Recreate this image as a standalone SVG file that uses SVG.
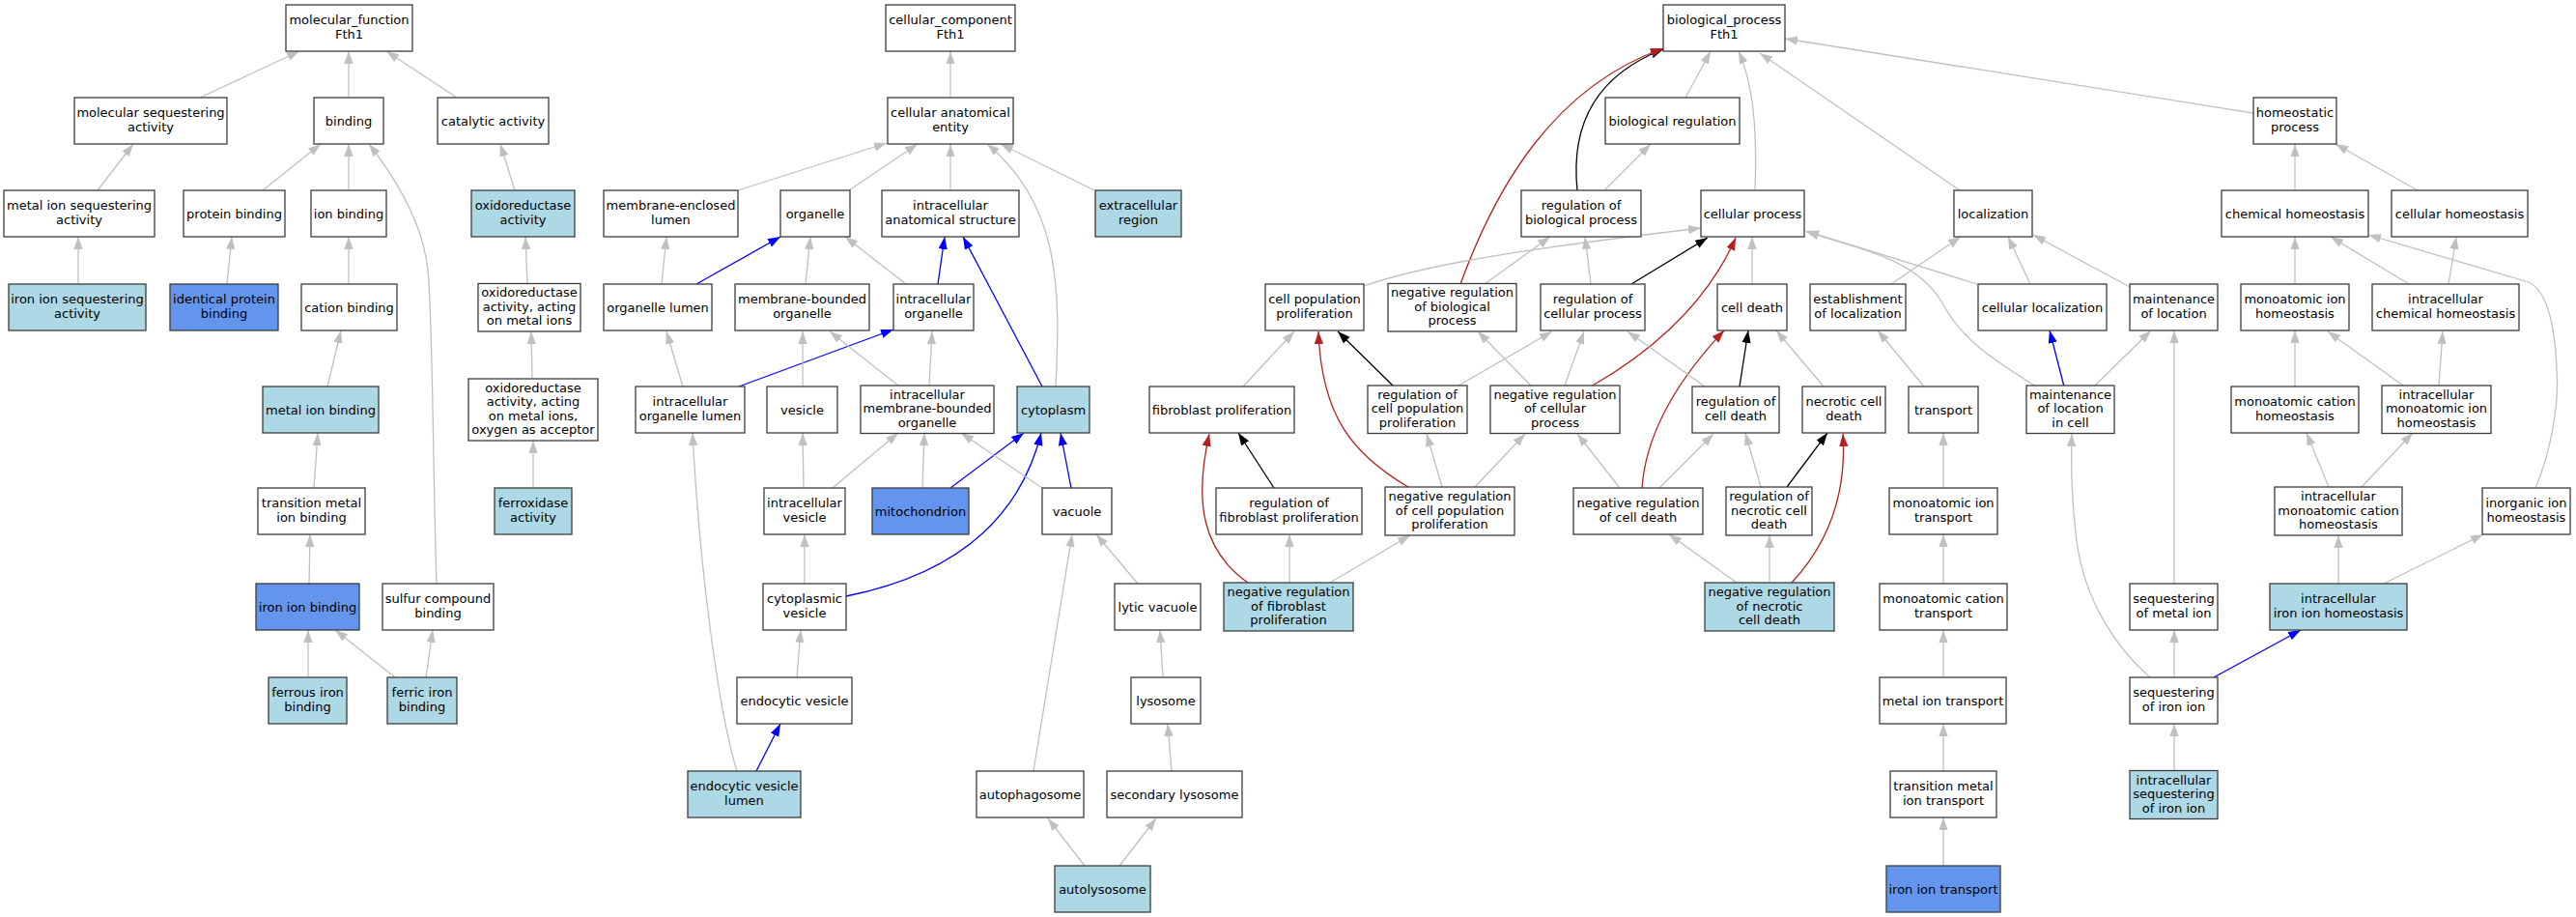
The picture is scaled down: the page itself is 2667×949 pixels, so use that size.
<svg xmlns="http://www.w3.org/2000/svg" width="2667" height="949" viewBox="0 0 2667 949">
<style>
.n rect{fill:#fff;stroke:#3c3c3c;stroke-width:1.3}
.n.lb rect{fill:#add8e6}
.n.cb rect{fill:#6495ed}
text{font-family:"DejaVu Sans",sans-serif;font-size:13px;text-anchor:middle;fill:#000}
#edges path{fill:none;stroke-width:1.3}
#edges .g{stroke:#c0c0c0;marker-end:url(#ag)}
#edges .b{stroke:#0000ff;marker-end:url(#ab)}
#edges .k{stroke:#000;marker-end:url(#ak)}
#edges .r{stroke:#b22222;marker-end:url(#ar)}
</style>
<defs>
<marker id="ag" markerUnits="userSpaceOnUse" markerWidth="14" markerHeight="10" refX="13" refY="4.67" orient="auto"><path d="M0,0 L13,4.67 L0,9.33 z" fill="#c0c0c0"/></marker>
<marker id="ab" markerUnits="userSpaceOnUse" markerWidth="14" markerHeight="10" refX="13" refY="4.67" orient="auto"><path d="M0,0 L13,4.67 L0,9.33 z" fill="#0000ff"/></marker>
<marker id="ak" markerUnits="userSpaceOnUse" markerWidth="14" markerHeight="10" refX="13" refY="4.67" orient="auto"><path d="M0,0 L13,4.67 L0,9.33 z" fill="#000"/></marker>
<marker id="ar" markerUnits="userSpaceOnUse" markerWidth="14" markerHeight="10" refX="13" refY="4.67" orient="auto"><path d="M0,0 L13,4.67 L0,9.33 z" fill="#b22222"/></marker>
</defs>
<rect width="2667" height="949" fill="#fff"/>
<g id="edges">
<path class="g" d="M207,101 L310,53"/>
<path class="g" d="M361,101 L361,53"/>
<path class="g" d="M473,101 L400,53"/>
<path class="g" d="M101,197 L138,149"/>
<path class="g" d="M272,197 L332,149"/>
<path class="g" d="M361,197 L361,149"/>
<path class="g" d="M452,604 C448,480 448,330 443,280 C438,230 410,185 382,149"/>
<path class="g" d="M81,294 L81,245"/>
<path class="g" d="M235,294 L240,245"/>
<path class="g" d="M361,294 L361,245"/>
<path class="g" d="M339,400 L353,342"/>
<path class="g" d="M325,505 L329,448"/>
<path class="g" d="M320,604 L321,553"/>
<path class="g" d="M319,701 L319,652"/>
<path class="g" d="M409,701 L347,652"/>
<path class="g" d="M441,701 L448,652"/>
<path class="g" d="M533,197 L518,149"/>
<path class="g" d="M546,294 L544,245"/>
<path class="g" d="M551,392 L550,343"/>
<path class="g" d="M552,505 L552,456"/>
<path class="g" d="M984,101 L984,53"/>
<path class="g" d="M764,197 L918,148"/>
<path class="g" d="M879,197 L950,149"/>
<path class="g" d="M984,197 L984,149"/>
<path class="g" d="M1093,400 C1098,300 1098,212 1022,149"/>
<path class="g" d="M1133,197 L1036,149"/>
<path class="g" d="M685,294 L690,245"/>
<path class="b" d="M721,294 L808,245"/>
<path class="g" d="M834,294 L839,245"/>
<path class="g" d="M938,294 L875,245"/>
<path class="b" d="M971,294 L978,245"/>
<path class="b" d="M1079,400 L997,245"/>
<path class="g" d="M707,400 L690,343"/>
<path class="b" d="M765,400 L925,341"/>
<path class="g" d="M831,400 L831,343"/>
<path class="g" d="M930,399 L859,343"/>
<path class="g" d="M962,399 L965,343"/>
<path class="g" d="M763,798 C745,740 725,600 717,448"/>
<path class="b" d="M783,798 L808,749"/>
<path class="g" d="M825,701 L829,652"/>
<path class="g" d="M832,505 L831,448"/>
<path class="g" d="M862,505 L930,448"/>
<path class="g" d="M833,604 L833,553"/>
<path class="b" d="M876,617 C985,595 1055,540 1078,448"/>
<path class="g" d="M955,505 L957,448"/>
<path class="b" d="M984,505 L1060,448"/>
<path class="g" d="M1079,505 L995,448"/>
<path class="b" d="M1109,505 L1098,448"/>
<path class="g" d="M1178,604 L1135,553"/>
<path class="g" d="M1070,798 L1110,553"/>
<path class="g" d="M1204,701 L1201,652"/>
<path class="g" d="M1213,798 L1209,749"/>
<path class="g" d="M1123,896 L1085,847"/>
<path class="g" d="M1159,896 L1197,847"/>
<path class="g" d="M1745,101 L1771,53"/>
<path class="k" d="M1633,197 C1625,120 1660,75 1722,51"/>
<path class="r" d="M1512,294 C1550,190 1610,90 1722,50"/>
<path class="g" d="M1817,197 C1820,120 1812,80 1800,53"/>
<path class="g" d="M2029,197 L1822,55"/>
<path class="g" d="M2333,117 L1848,40"/>
<path class="g" d="M1661,197 L1709,149"/>
<path class="g" d="M1537,294 L1605,245"/>
<path class="g" d="M1647,294 L1641,245"/>
<path class="k" d="M1689,294 L1768,246"/>
<path class="g" d="M1412,296 C1480,272 1600,255 1761,236"/>
<path class="g" d="M1814,294 L1814,245"/>
<path class="r" d="M1647,400 C1700,370 1765,320 1797,246"/>
<path class="g" d="M2108,400 C2060,370 2030,350 2010,312 C1985,270 1930,258 1870,240"/>
<path class="g" d="M2047,294 L1870,239"/>
<path class="g" d="M2102,294 L2079,245"/>
<path class="g" d="M1958,294 L2030,245"/>
<path class="g" d="M2205,297 L2105,243"/>
<path class="k" d="M1801,400 L1810,342"/>
<path class="r" d="M1700,505 C1704,450 1735,395 1785,342"/>
<path class="g" d="M1888,400 L1839,342"/>
<path class="g" d="M1992,400 L1944,342"/>
<path class="b" d="M2137,400 L2122,342"/>
<path class="g" d="M2168,400 L2227,342"/>
<path class="k" d="M1443,400 L1385,343"/>
<path class="g" d="M1287,400 L1340,343"/>
<path class="r" d="M1458,504 C1400,470 1368,430 1365,343"/>
<path class="g" d="M1493,504 L1477,449"/>
<path class="g" d="M1527,504 L1579,449"/>
<path class="g" d="M1510,399 L1607,343"/>
<path class="g" d="M1585,399 L1530,343"/>
<path class="g" d="M1620,399 L1640,343"/>
<path class="g" d="M1765,400 L1685,343"/>
<path class="k" d="M1319,505 L1282,448"/>
<path class="r" d="M1292,603 C1245,570 1236,520 1252,449"/>
<path class="g" d="M1335,603 L1335,553"/>
<path class="g" d="M1377,603 L1460,554"/>
<path class="k" d="M1850,504 L1892,448"/>
<path class="g" d="M1823,504 L1807,448"/>
<path class="g" d="M1718,505 L1774,449"/>
<path class="g" d="M1677,505 L1633,449"/>
<path class="g" d="M1798,603 L1728,553"/>
<path class="g" d="M1832,603 L1832,554"/>
<path class="r" d="M1855,603 C1895,560 1912,510 1908,449"/>
<path class="g" d="M2012,505 L2012,448"/>
<path class="g" d="M2012,604 L2012,553"/>
<path class="g" d="M2012,701 L2012,652"/>
<path class="g" d="M2012,798 L2012,749"/>
<path class="g" d="M2012,896 L2012,846"/>
<path class="g" d="M2376,197 L2376,149"/>
<path class="g" d="M2503,197 L2418,149"/>
<path class="g" d="M2376,294 L2376,245"/>
<path class="g" d="M2494,294 L2413,245"/>
<path class="g" d="M2535,294 L2543,245"/>
<path class="g" d="M2625,505 C2640,470 2650,420 2647,383 C2645,330 2635,300 2618,292 L2452,243"/>
<path class="g" d="M2251,604 L2251,342"/>
<path class="g" d="M2376,400 L2376,342"/>
<path class="g" d="M2488,399 L2410,343"/>
<path class="g" d="M2525,399 L2529,343"/>
<path class="g" d="M2411,504 L2388,448"/>
<path class="g" d="M2445,504 L2498,448"/>
<path class="g" d="M2421,604 L2421,554"/>
<path class="g" d="M2468,604 L2571,553"/>
<path class="g" d="M2251,701 L2251,652"/>
<path class="b" d="M2292,701 L2382,652"/>
<path class="g" d="M2226,701 C2190,670 2158,620 2150,560 C2145,520 2144,480 2145,449"/>
<path class="g" d="M2251,798 L2251,749"/>
</g>
<g id="n_mf" class="n"><rect x="296" y="5" width="131" height="48"/><text x="361.5" y="25.25">molecular_function<tspan x="361.5" dy="14.5">Fth1</tspan></text></g>
<g id="n_mseq" class="n"><rect x="77" y="101" width="158" height="48"/><text x="156" y="121.25">molecular sequestering<tspan x="156" dy="14.5">activity</tspan></text></g>
<g id="n_binding" class="n"><rect x="325" y="101" width="72" height="48"/><text x="361" y="129.5">binding</text></g>
<g id="n_cat" class="n"><rect x="453" y="101" width="115" height="48"/><text x="510.5" y="129.5">catalytic activity</text></g>
<g id="n_miseq" class="n"><rect x="4" y="197" width="156" height="48"/><text x="82" y="217.25">metal ion sequestering<tspan x="82" dy="14.5">activity</tspan></text></g>
<g id="n_protb" class="n"><rect x="190" y="197" width="105" height="48"/><text x="242.5" y="225.5">protein binding</text></g>
<g id="n_ionb" class="n"><rect x="322" y="197" width="78" height="48"/><text x="361" y="225.5">ion binding</text></g>
<g id="n_oxred" class="n lb"><rect x="488" y="197" width="107" height="48"/><text x="541.5" y="217.25">oxidoreductase<tspan x="541.5" dy="14.5">activity</tspan></text></g>
<g id="n_iiseq" class="n lb"><rect x="9" y="294" width="142" height="48"/><text x="80" y="314.25">iron ion sequestering<tspan x="80" dy="14.5">activity</tspan></text></g>
<g id="n_idprot" class="n cb"><rect x="176" y="294" width="112" height="48"/><text x="232" y="314.25">identical protein<tspan x="232" dy="14.5">binding</tspan></text></g>
<g id="n_catb" class="n"><rect x="312" y="294" width="99" height="48"/><text x="361.5" y="322.5">cation binding</text></g>
<g id="n_oxmet" class="n"><rect x="495" y="293.5" width="106" height="49.5"/><text x="548" y="307.25">oxidoreductase<tspan x="548" dy="14.5">activity, acting</tspan><tspan x="548" dy="14.5">on metal ions</tspan></text></g>
<g id="n_metb" class="n lb"><rect x="272" y="400" width="120" height="48"/><text x="332" y="428.5">metal ion binding</text></g>
<g id="n_oxoxy" class="n"><rect x="485" y="392" width="134" height="64"/><text x="552" y="405.75">oxidoreductase<tspan x="552" dy="14.5">activity, acting</tspan><tspan x="552" dy="14.5">on metal ions,</tspan><tspan x="552" dy="14.5">oxygen as acceptor</tspan></text></g>
<g id="n_tmb" class="n"><rect x="267" y="505" width="111" height="48"/><text x="322.5" y="525.25">transition metal<tspan x="322.5" dy="14.5">ion binding</tspan></text></g>
<g id="n_ferrox" class="n lb"><rect x="512" y="505" width="80" height="48"/><text x="552" y="525.25">ferroxidase<tspan x="552" dy="14.5">activity</tspan></text></g>
<g id="n_iib" class="n cb"><rect x="265" y="604" width="107" height="48"/><text x="318.5" y="632.5">iron ion binding</text></g>
<g id="n_sulf" class="n"><rect x="396" y="604" width="115" height="48"/><text x="453.5" y="624.25">sulfur compound<tspan x="453.5" dy="14.5">binding</tspan></text></g>
<g id="n_ferrous" class="n lb"><rect x="278" y="701" width="81" height="48"/><text x="318.5" y="721.25">ferrous iron<tspan x="318.5" dy="14.5">binding</tspan></text></g>
<g id="n_ferric" class="n lb"><rect x="401" y="701" width="72" height="48"/><text x="437" y="721.25">ferric iron<tspan x="437" dy="14.5">binding</tspan></text></g>
<g id="n_cc" class="n"><rect x="917" y="5" width="134" height="48"/><text x="984" y="25.25">cellular_component<tspan x="984" dy="14.5">Fth1</tspan></text></g>
<g id="n_cae" class="n"><rect x="919" y="101" width="130" height="48"/><text x="984" y="121.25">cellular anatomical<tspan x="984" dy="14.5">entity</tspan></text></g>
<g id="n_mel" class="n"><rect x="625" y="197" width="139" height="48"/><text x="694.5" y="217.25">membrane-enclosed<tspan x="694.5" dy="14.5">lumen</tspan></text></g>
<g id="n_org" class="n"><rect x="808" y="197" width="72" height="48"/><text x="844" y="225.5">organelle</text></g>
<g id="n_ias" class="n"><rect x="913" y="197" width="142" height="48"/><text x="984" y="217.25">intracellular<tspan x="984" dy="14.5">anatomical structure</tspan></text></g>
<g id="n_extra" class="n lb"><rect x="1134" y="197" width="89" height="48"/><text x="1178.5" y="217.25">extracellular<tspan x="1178.5" dy="14.5">region</tspan></text></g>
<g id="n_orglum" class="n"><rect x="625" y="294" width="112" height="48"/><text x="681" y="322.5">organelle lumen</text></g>
<g id="n_mbo" class="n"><rect x="761" y="294" width="139" height="48"/><text x="830.5" y="314.25">membrane-bounded<tspan x="830.5" dy="14.5">organelle</tspan></text></g>
<g id="n_iorg" class="n"><rect x="925" y="294" width="83" height="48"/><text x="966.5" y="314.25">intracellular<tspan x="966.5" dy="14.5">organelle</tspan></text></g>
<g id="n_iol" class="n"><rect x="658" y="400" width="113" height="48"/><text x="714.5" y="420.25">intracellular<tspan x="714.5" dy="14.5">organelle lumen</tspan></text></g>
<g id="n_ves" class="n"><rect x="794" y="400" width="73" height="48"/><text x="830.5" y="428.5">vesicle</text></g>
<g id="n_imbo" class="n"><rect x="891" y="399" width="138" height="49.5"/><text x="960" y="412.75">intracellular<tspan x="960" dy="14.5">membrane-bounded</tspan><tspan x="960" dy="14.5">organelle</tspan></text></g>
<g id="n_cyto" class="n lb"><rect x="1053" y="400" width="75" height="48"/><text x="1090.5" y="428.5">cytoplasm</text></g>
<g id="n_iv" class="n"><rect x="791" y="505" width="84" height="48"/><text x="833" y="525.25">intracellular<tspan x="833" dy="14.5">vesicle</tspan></text></g>
<g id="n_mito" class="n cb"><rect x="903" y="505" width="100" height="48"/><text x="953" y="533.5">mitochondrion</text></g>
<g id="n_vac" class="n"><rect x="1079" y="505" width="72" height="48"/><text x="1115" y="533.5">vacuole</text></g>
<g id="n_cv" class="n"><rect x="790" y="604" width="86" height="48"/><text x="833" y="624.25">cytoplasmic<tspan x="833" dy="14.5">vesicle</tspan></text></g>
<g id="n_lytic" class="n"><rect x="1154" y="604" width="89" height="48"/><text x="1198.5" y="632.5">lytic vacuole</text></g>
<g id="n_ev" class="n"><rect x="763" y="701" width="119" height="48"/><text x="822.5" y="729.5">endocytic vesicle</text></g>
<g id="n_lyso" class="n"><rect x="1171" y="701" width="72" height="48"/><text x="1207" y="729.5">lysosome</text></g>
<g id="n_evl" class="n lb"><rect x="712" y="798" width="117" height="48"/><text x="770.5" y="818.25">endocytic vesicle<tspan x="770.5" dy="14.5">lumen</tspan></text></g>
<g id="n_autoph" class="n"><rect x="1011" y="798" width="111" height="48"/><text x="1066.5" y="826.5">autophagosome</text></g>
<g id="n_seclys" class="n"><rect x="1146" y="798" width="140" height="48"/><text x="1216" y="826.5">secondary lysosome</text></g>
<g id="n_autolys" class="n lb"><rect x="1092" y="896" width="99" height="48"/><text x="1141.5" y="924.5">autolysosome</text></g>
<g id="n_bp" class="n"><rect x="1722" y="5" width="126" height="48"/><text x="1785" y="25.25">biological_process<tspan x="1785" dy="14.5">Fth1</tspan></text></g>
<g id="n_breg" class="n"><rect x="1662" y="101" width="139" height="48"/><text x="1731.5" y="129.5">biological regulation</text></g>
<g id="n_homeo" class="n"><rect x="2333" y="101" width="86" height="48"/><text x="2376" y="121.25">homeostatic<tspan x="2376" dy="14.5">process</tspan></text></g>
<g id="n_rbp" class="n"><rect x="1575" y="197" width="124" height="48"/><text x="1637" y="217.25">regulation of<tspan x="1637" dy="14.5">biological process</tspan></text></g>
<g id="n_cp" class="n"><rect x="1761" y="197" width="107" height="48"/><text x="1814.5" y="225.5">cellular process</text></g>
<g id="n_loc" class="n"><rect x="2023" y="197" width="81" height="48"/><text x="2063.5" y="225.5">localization</text></g>
<g id="n_chem" class="n"><rect x="2300" y="197" width="152" height="48"/><text x="2376" y="225.5">chemical homeostasis</text></g>
<g id="n_cellh" class="n"><rect x="2476" y="197" width="141" height="48"/><text x="2546.5" y="225.5">cellular homeostasis</text></g>
<g id="n_cpp" class="n"><rect x="1310" y="294" width="102" height="48"/><text x="1361" y="314.25">cell population<tspan x="1361" dy="14.5">proliferation</tspan></text></g>
<g id="n_nrbp" class="n"><rect x="1437" y="293.5" width="133" height="49.5"/><text x="1503.5" y="307.25">negative regulation<tspan x="1503.5" dy="14.5">of biological</tspan><tspan x="1503.5" dy="14.5">process</tspan></text></g>
<g id="n_rcp" class="n"><rect x="1595" y="294" width="108" height="48"/><text x="1649" y="314.25">regulation of<tspan x="1649" dy="14.5">cellular process</tspan></text></g>
<g id="n_cd" class="n"><rect x="1778" y="294" width="72" height="48"/><text x="1814" y="322.5">cell death</text></g>
<g id="n_eloc" class="n"><rect x="1874" y="294" width="99" height="48"/><text x="1923.5" y="314.25">establishment<tspan x="1923.5" dy="14.5">of localization</tspan></text></g>
<g id="n_cloc" class="n"><rect x="2048" y="294" width="133" height="48"/><text x="2114.5" y="322.5">cellular localization</text></g>
<g id="n_mloc" class="n"><rect x="2205" y="294" width="91" height="48"/><text x="2250.5" y="314.25">maintenance<tspan x="2250.5" dy="14.5">of location</tspan></text></g>
<g id="n_mih" class="n"><rect x="2320" y="294" width="112" height="48"/><text x="2376" y="314.25">monoatomic ion<tspan x="2376" dy="14.5">homeostasis</tspan></text></g>
<g id="n_ich" class="n"><rect x="2456" y="294" width="152" height="48"/><text x="2532" y="314.25">intracellular<tspan x="2532" dy="14.5">chemical homeostasis</tspan></text></g>
<g id="n_fp" class="n"><rect x="1190" y="400" width="150" height="48"/><text x="1265" y="428.5">fibroblast proliferation</text></g>
<g id="n_rcpp" class="n"><rect x="1416" y="399" width="103" height="49.5"/><text x="1467.5" y="412.75">regulation of<tspan x="1467.5" dy="14.5">cell population</tspan><tspan x="1467.5" dy="14.5">proliferation</tspan></text></g>
<g id="n_nrcp" class="n"><rect x="1543" y="399" width="134" height="49.5"/><text x="1610" y="412.75">negative regulation<tspan x="1610" dy="14.5">of cellular</tspan><tspan x="1610" dy="14.5">process</tspan></text></g>
<g id="n_rcd" class="n"><rect x="1752" y="400" width="90" height="48"/><text x="1797" y="420.25">regulation of<tspan x="1797" dy="14.5">cell death</tspan></text></g>
<g id="n_ncd" class="n"><rect x="1866" y="400" width="86" height="48"/><text x="1909" y="420.25">necrotic cell<tspan x="1909" dy="14.5">death</tspan></text></g>
<g id="n_trans" class="n"><rect x="1976" y="400" width="72" height="48"/><text x="2012" y="428.5">transport</text></g>
<g id="n_mlic" class="n"><rect x="2098" y="399" width="91" height="49.5"/><text x="2143.5" y="412.75">maintenance<tspan x="2143.5" dy="14.5">of location</tspan><tspan x="2143.5" dy="14.5">in cell</tspan></text></g>
<g id="n_mch" class="n"><rect x="2310" y="400" width="132" height="48"/><text x="2376" y="420.25">monoatomic cation<tspan x="2376" dy="14.5">homeostasis</tspan></text></g>
<g id="n_imih" class="n"><rect x="2466" y="399" width="113" height="49.5"/><text x="2522.5" y="412.75">intracellular<tspan x="2522.5" dy="14.5">monoatomic ion</tspan><tspan x="2522.5" dy="14.5">homeostasis</tspan></text></g>
<g id="n_rfp" class="n"><rect x="1259" y="505" width="151" height="48"/><text x="1334.5" y="525.25">regulation of<tspan x="1334.5" dy="14.5">fibroblast proliferation</tspan></text></g>
<g id="n_nrcpp" class="n"><rect x="1434" y="504" width="134" height="50"/><text x="1501" y="518">negative regulation<tspan x="1501" dy="14.5">of cell population</tspan><tspan x="1501" dy="14.5">proliferation</tspan></text></g>
<g id="n_nrcd" class="n"><rect x="1629" y="505" width="134" height="48"/><text x="1696" y="525.25">negative regulation<tspan x="1696" dy="14.5">of cell death</tspan></text></g>
<g id="n_rncd" class="n"><rect x="1787" y="504" width="89" height="50"/><text x="1831.5" y="518">regulation of<tspan x="1831.5" dy="14.5">necrotic cell</tspan><tspan x="1831.5" dy="14.5">death</tspan></text></g>
<g id="n_mit" class="n"><rect x="1956" y="505" width="112" height="48"/><text x="2012" y="525.25">monoatomic ion<tspan x="2012" dy="14.5">transport</tspan></text></g>
<g id="n_imch" class="n"><rect x="2355" y="504" width="132" height="50"/><text x="2421" y="518">intracellular<tspan x="2421" dy="14.5">monoatomic cation</tspan><tspan x="2421" dy="14.5">homeostasis</tspan></text></g>
<g id="n_iih" class="n"><rect x="2570" y="505" width="91" height="48"/><text x="2615.5" y="525.25">inorganic ion<tspan x="2615.5" dy="14.5">homeostasis</tspan></text></g>
<g id="n_nrfp" class="n lb"><rect x="1267" y="603" width="134" height="50"/><text x="1334" y="617">negative regulation<tspan x="1334" dy="14.5">of fibroblast</tspan><tspan x="1334" dy="14.5">proliferation</tspan></text></g>
<g id="n_nrncd" class="n lb"><rect x="1765" y="603" width="134" height="50"/><text x="1832" y="617">negative regulation<tspan x="1832" dy="14.5">of necrotic</tspan><tspan x="1832" dy="14.5">cell death</tspan></text></g>
<g id="n_mct" class="n"><rect x="1946" y="604" width="132" height="48"/><text x="2012" y="624.25">monoatomic cation<tspan x="2012" dy="14.5">transport</tspan></text></g>
<g id="n_smi" class="n"><rect x="2205" y="604" width="91" height="48"/><text x="2250.5" y="624.25">sequestering<tspan x="2250.5" dy="14.5">of metal ion</tspan></text></g>
<g id="n_iiih" class="n lb"><rect x="2350" y="604" width="142" height="48"/><text x="2421" y="624.25">intracellular<tspan x="2421" dy="14.5">iron ion homeostasis</tspan></text></g>
<g id="n_mitr" class="n"><rect x="1946" y="701" width="131" height="48"/><text x="2011.5" y="729.5">metal ion transport</text></g>
<g id="n_sii" class="n"><rect x="2205" y="701" width="91" height="48"/><text x="2250.5" y="721.25">sequestering<tspan x="2250.5" dy="14.5">of iron ion</tspan></text></g>
<g id="n_tmit" class="n"><rect x="1957" y="798" width="110" height="48"/><text x="2012" y="818.25">transition metal<tspan x="2012" dy="14.5">ion transport</tspan></text></g>
<g id="n_isii" class="n lb"><rect x="2205" y="797.5" width="91" height="50"/><text x="2250.5" y="811.5">intracellular<tspan x="2250.5" dy="14.5">sequestering</tspan><tspan x="2250.5" dy="14.5">of iron ion</tspan></text></g>
<g id="n_iit" class="n cb"><rect x="1953" y="896" width="118" height="48"/><text x="2012" y="924.5">iron ion transport</text></g>
</svg>
